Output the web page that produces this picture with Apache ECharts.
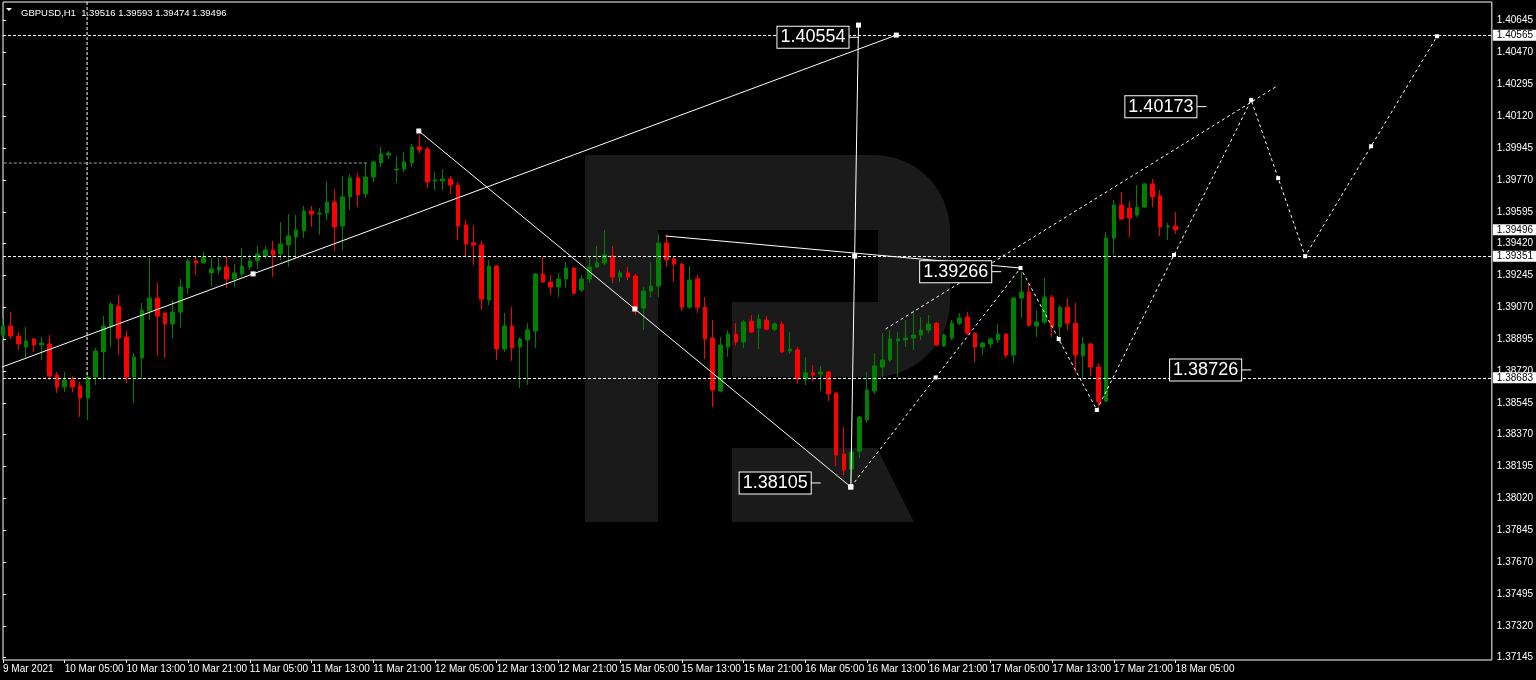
<!DOCTYPE html>
<html>
<head>
<meta charset="utf-8">
<title>GBPUSD,H1</title>
<script src="https://cdn.jsdelivr.net/npm/echarts@6/dist/echarts.min.js"></script>
<style>
  html, body { margin: 0; padding: 0; background: #000; }
  #main { width: 1536px; height: 680px; }
</style>
</head>
<body>
<div id="main"></div>
<script>
// GBPUSD H1 bars, 9 Mar 21:00 .. 18 Mar 05:00 (index 0..152)
var opens = [
  1.38918,1.38967,1.38912,1.38852,1.38896,1.38863,1.38869,1.38698,1.38632,1.38671,
  1.38638,1.38572,1.38687,1.38825,1.38962,1.39077,1.38907,1.38687,1.38792,1.39050,
  1.39121,1.39039,1.38978,1.39044,1.39176,1.39325,1.39314,1.39259,1.39275,1.39292,
  1.39226,1.39253,1.39292,1.39325,1.39352,1.39385,1.39363,1.39413,1.39457,1.39490,
  1.39599,1.39583,1.39588,1.39649,1.39517,1.39677,1.39781,1.39693,1.39786,1.39863,
  1.39907,1.39825,1.39830,1.39863,1.39951,1.39940,1.39764,1.39764,1.39775,1.39742,
  1.39522,1.39424,1.39413,1.39110,1.39297,1.38841,1.38967,1.38852,1.38891,1.38940,
  1.39253,1.39209,1.39182,1.39226,1.39286,1.39165,1.39226,1.39292,1.39314,1.39352,
  1.39237,1.39259,1.39242,1.39066,1.39159,1.39187,1.39424,1.39336,1.39308,1.39071,
  1.39226,1.39071,1.38901,1.38610,1.38852,1.38923,1.38880,1.38994,1.38956,1.39000,
  1.38950,1.38978,1.38830,1.38836,1.38676,1.38710,1.38704,1.38715,1.38599,1.38264,
  1.38181,1.38280,1.38451,1.38610,1.38742,1.38781,1.38885,1.38891,1.38901,1.38918,
  1.38945,1.38983,1.38858,1.38901,1.38983,1.39017,1.38928,1.38852,1.38869,1.38891,
  1.38923,1.38808,1.39121,1.39154,1.38967,1.38989,1.39126,1.38962,1.39071,1.38983,
  1.38803,1.38869,1.38742,1.38555,1.39451,1.39632,1.39616,1.39577,1.39621,1.39748,
  1.39682,1.39512,1.39516
];
var highs = [
  1.39011,1.39044,1.38934,1.38962,1.38901,1.38907,1.38918,1.38715,1.38715,1.38693,
  1.38660,1.38715,1.38847,1.39022,1.39099,1.39138,1.38940,1.38819,1.39094,1.39341,
  1.39204,1.39039,1.39110,1.39226,1.39336,1.39347,1.39374,1.39341,1.39341,1.39352,
  1.39308,1.39396,1.39358,1.39407,1.39407,1.39435,1.39539,1.39583,1.39578,1.39627,
  1.39627,1.39616,1.39764,1.39720,1.39792,1.39803,1.39809,1.39863,1.39874,1.39951,
  1.39929,1.39902,1.39924,1.39968,1.40017,1.39951,1.39814,1.39830,1.39792,1.39759,
  1.39550,1.39522,1.39435,1.39330,1.39300,1.39039,1.39071,1.38907,1.38983,1.39259,
  1.39347,1.39248,1.39259,1.39319,1.39292,1.39248,1.39347,1.39407,1.39495,1.39407,
  1.39275,1.39292,1.39253,1.39182,1.39319,1.39473,1.39468,1.39347,1.39314,1.39297,
  1.39248,1.39126,1.39000,1.38907,1.38945,1.38983,1.39000,1.39027,1.39033,1.39022,
  1.38989,1.38994,1.38934,1.38852,1.38797,1.38753,1.38748,1.38720,1.38605,1.38412,
  1.38286,1.38473,1.38715,1.38819,1.38928,1.38945,1.38934,1.39000,1.39055,1.39017,
  1.39027,1.38989,1.38928,1.39000,1.39039,1.39044,1.38934,1.38880,1.38907,1.38978,
  1.38928,1.39126,1.39266,1.39204,1.39055,1.39231,1.39138,1.39082,1.39121,1.39094,
  1.38907,1.38874,1.38764,1.39484,1.39660,1.39704,1.39654,1.39742,1.39753,1.39775,
  1.39715,1.39534,1.39593
];
var lows = [
  1.38891,1.38896,1.38836,1.38792,1.38825,1.38781,1.38671,1.38599,1.38605,1.38605,
  1.38467,1.38451,1.38643,1.38671,1.38852,1.38808,1.38654,1.38544,1.38676,1.39000,
  1.38803,1.38792,1.38901,1.38956,1.39143,1.39248,1.39314,1.39187,1.39248,1.39176,
  1.39182,1.39237,1.39275,1.39281,1.39336,1.39237,1.39330,1.39292,1.39341,1.39451,
  1.39512,1.39468,1.39550,1.39380,1.39385,1.39605,1.39621,1.39671,1.39759,1.39841,
  1.39885,1.39753,1.39814,1.39841,1.39918,1.39726,1.39715,1.39715,1.39693,1.39440,
  1.39347,1.39302,1.39055,1.39082,1.38781,1.38825,1.38775,1.38627,1.38643,1.38847,
  1.39205,1.39138,1.39126,1.39176,1.39138,1.39154,1.39204,1.39286,1.39302,1.39204,
  1.39209,1.39220,1.39027,1.38945,1.39126,1.39126,1.39292,1.39209,1.39050,1.39060,
  1.39039,1.38786,1.38522,1.38605,1.38797,1.38858,1.38847,1.38930,1.38841,1.38945,
  1.38940,1.38819,1.38814,1.38649,1.38643,1.38660,1.38610,1.38555,1.38198,1.38148,
  1.38105,1.38242,1.38434,1.38594,1.38687,1.38770,1.38687,1.38852,1.38836,1.38891,
  1.38928,1.38858,1.38852,1.38891,1.38972,1.38918,1.38770,1.38808,1.38847,1.38874,
  1.38792,1.38764,1.39011,1.38962,1.38907,1.38978,1.38907,1.38874,1.38945,1.38710,
  1.38676,1.38693,1.38522,1.38550,1.39358,1.39552,1.39457,1.39566,1.39616,1.39621,
  1.39462,1.39440,1.39474
];
var closes = [
  1.38967,1.38912,1.38869,1.38885,1.38863,1.38874,1.38693,1.38632,1.38671,1.38632,
  1.38572,1.38687,1.38830,1.38967,1.39088,1.38901,1.38687,1.38797,1.39055,1.39121,
  1.39022,1.38978,1.39044,1.39182,1.39325,1.39314,1.39347,1.39281,1.39292,1.39226,
  1.39259,1.39297,1.39325,1.39363,1.39385,1.39358,1.39418,1.39462,1.39495,1.39599,
  1.39583,1.39588,1.39649,1.39512,1.39677,1.39781,1.39687,1.39786,1.39869,1.39913,
  1.39918,1.39830,1.39869,1.39951,1.39935,1.39759,1.39770,1.39775,1.39742,1.39517,
  1.39418,1.39413,1.39115,1.39297,1.38841,1.38967,1.38847,1.38896,1.38945,1.39253,
  1.39209,1.39182,1.39226,1.39286,1.39148,1.39226,1.39292,1.39314,1.39358,1.39237,
  1.39259,1.39237,1.39060,1.39159,1.39187,1.39424,1.39330,1.39308,1.39071,1.39220,
  1.39071,1.38896,1.38616,1.38863,1.38923,1.38880,1.38989,1.38934,1.39005,1.38950,
  1.38978,1.38825,1.38841,1.38676,1.38710,1.38698,1.38715,1.38594,1.38258,1.38176,
  1.38275,1.38467,1.38616,1.38748,1.38781,1.38896,1.38896,1.38901,1.38918,1.38945,
  1.38978,1.38863,1.38918,1.38983,1.39011,1.38928,1.38852,1.38874,1.38896,1.38923,
  1.38808,1.39121,1.39154,1.38972,1.38989,1.39126,1.38962,1.39071,1.38983,1.38808,
  1.38869,1.38742,1.38550,1.39451,1.39632,1.39555,1.39561,1.39621,1.39748,1.39677,
  1.39512,1.39517,1.39496
];

// one label every 8 bars
var tickLabels = ['9 Mar 2021', '10 Mar 05:00', '10 Mar 13:00', '10 Mar 21:00', '11 Mar 05:00',
  '11 Mar 13:00', '11 Mar 21:00', '12 Mar 05:00', '12 Mar 13:00', '12 Mar 21:00',
  '15 Mar 05:00', '15 Mar 13:00', '15 Mar 21:00', '16 Mar 05:00', '16 Mar 13:00',
  '16 Mar 21:00', '17 Mar 05:00', '17 Mar 13:00', '17 Mar 21:00', '18 Mar 05:00'];
var yTicks = [1.37145, 1.37320, 1.37495, 1.37670, 1.37845, 1.38020, 1.38195, 1.38370,
  1.38545, 1.38720, 1.38895, 1.39070, 1.39245, 1.39420, 1.39595, 1.39770, 1.39945,
  1.40120, 1.40295, 1.40470, 1.40645];

var levels = [1.40565, 1.39351, 1.38683];   // dashed horizontal lines
var lastPrice = 1.39496;

// drawn objects, points are [bar index, price]
var trendUp = [[-50.96, 1.37942], [115.8, 1.40566]];
var trendDown = [[53.9, 1.40039], [109.9, 1.38083]];
var spike = [[109.9, 1.38083], [110.9, 1.40621]];
var flatTop = [[85.9, 1.39462], [131.9, 1.39286]];
var wave = [[109.9, 1.38083], [131.9, 1.39286], [141.8, 1.38506], [161.8, 1.40209],
  [168.8, 1.39351], [185.9, 1.40560]];
var channel = [[114.4, 1.38951], [165.0, 1.40282]];
var vMark = [[10.9, 1.40748], [10.9, 1.38683]];
var grayMark = [[0.1, 1.39863], [47.2, 1.39863]];
var priceTags = [[110.9, 1.40554], [106, 1.38105], [129.4, 1.39266], [156, 1.40173], [161.8, 1.38726]];

var nBars = 194;
var yMin = 1.37132, yMax = 1.40748;
var smallFont = "'Liberation Sans Narrow', 'Liberation Sans', sans-serif";

var categories = [];
for (var i = 0; i < nBars; i++) categories.push(String(i));

var candleData = opens.map(function (o, i) {
  return [o, closes[i], lows[i], highs[i]];
});

function withMids(pts) {
  var out = [pts[0]];
  for (var i = 1; i < pts.length; i++) {
    var a = pts[i - 1], b = pts[i];
    out.push([(a[0] + b[0]) / 2, (a[1] + b[1]) / 2]);
    out.push(b);
  }
  return out;
}

function objLine(pts, opts) {
  return {
    type: 'line',
    xAxisIndex: 1,
    yAxisIndex: 0,
    data: pts,
    symbol: opts.marks ? 'rect' : 'none',
    symbolSize: opts.size || 5,
    showSymbol: !!opts.marks,
    clip: true,
    silent: true,
    z: 4,
    lineStyle: { color: opts.color || '#ffffff', width: 1, type: opts.dash ? opts.dash : 'solid' },
    itemStyle: { color: '#ffffff' },
    emphasis: { disabled: true }
  };
}

function isTick(idx) {
  return idx % 8 === 0 && idx / 8 < tickLabels.length;
}

var last = opens.length - 1;
var header = 'GBPUSD,H1  ' + [opens[last], highs[last], lows[last], closes[last]]
  .map(function (v) { return v.toFixed(5); }).join(' ');

var myChart = echarts.init(document.getElementById('main'));

var option = {
  backgroundColor: '#000000',
  animation: false,
  title: {
    text: header,
    left: 16,
    top: 3,
    textStyle: { color: '#ffffff', fontSize: 9.5, fontWeight: 'normal', fontFamily: smallFont }
  },
  graphic: [
    // watermark logo
    { type: 'rect', z: 0, silent: true, shape: { x: 585, y: 155, width: 73, height: 367 }, style: { fill: '#1a1a1a' } },
    { type: 'rect', z: 0, silent: true, shape: { x: 658, y: 155, width: 292, height: 222, r: [0, 76, 76, 0] }, style: { fill: '#1a1a1a' } },
    { type: 'rect', z: 0, silent: true, shape: { x: 658, y: 230, width: 220, height: 72 }, style: { fill: '#000000' } },
    { type: 'rect', z: 0, silent: true, shape: { x: 658, y: 302, width: 74, height: 75 }, style: { fill: '#000000' } },
    { type: 'polygon', z: 0, silent: true, shape: { points: [[732, 448], [877, 448], [914, 522], [732, 522]] }, style: { fill: '#1a1a1a' } },
    // header arrow
    { type: 'polygon', z: 5, silent: true, shape: { points: [[6, 8], [12, 8], [9, 11]] }, style: { fill: '#ffffff' } }
  ],
  grid: {
    left: 3,
    top: 2,
    width: 1489,
    height: 658,
    show: true,
    borderColor: '#ffffff',
    borderWidth: 1,
    backgroundColor: 'transparent'
  },
  xAxis: [
    {
      type: 'category',
      data: categories,
      boundaryGap: false,
      axisLine: { show: false },
      splitLine: { show: false },
      axisTick: { show: true, length: 3, interval: isTick, lineStyle: { color: '#ffffff' } },
      axisLabel: {
        interval: isTick,
        formatter: function (v, idx) { return tickLabels[idx / 8]; },
        align: 'left',
        margin: 4,
        color: '#ffffff',
        fontSize: 10,
        fontFamily: smallFont
      }
    },
    {
      type: 'value',
      min: 0,
      max: nBars - 1,
      show: false
    }
  ],
  yAxis: {
    type: 'value',
    position: 'right',
    min: yMin,
    max: yMax,
    splitLine: { show: false },
    axisLine: { show: false },
    axisTick: { show: true, length: 3, customValues: yTicks, lineStyle: { color: '#ffffff' } },
    axisLabel: {
      customValues: yTicks,
      formatter: function (v) { return v.toFixed(5); },
      color: '#ffffff',
      fontSize: 10,
      margin: 5,
      fontFamily: smallFont
    }
  },
  series: [
    {
      type: 'candlestick',
      xAxisIndex: 0,
      yAxisIndex: 0,
      data: candleData,
      barWidth: 4,
      z: 3,
      silent: true,
      itemStyle: {
        color: '#008000',
        color0: '#ff0000',
        borderColor: '#008000',
        borderColor0: '#ff0000',
        borderWidth: 1
      },
      markLine: {
        silent: true,
        symbol: ['none', 'none'],
        precision: 5,
        lineStyle: { color: '#ffffff', width: 1, type: [3, 2] },
        label: {
          position: 'end',
          distance: 1,
          formatter: function (p) { return Number(p.value).toFixed(5); },
          color: '#000000',
          backgroundColor: '#ffffff',
          padding: [1, 4, 0, 4],
          fontSize: 10,
          fontFamily: smallFont
        },
        emphasis: { disabled: true },
        data: levels.map(function (v) { return { yAxis: v }; })
          .concat([{ yAxis: lastPrice, lineStyle: { color: 'rgba(0,0,0,0)' } }])
      }
    },
    objLine(grayMark, { dash: [3, 2], color: '#a0a0a0' }),
    objLine(vMark, { dash: [3, 2] }),
    objLine(withMids(trendUp), { marks: true }),
    objLine(withMids(trendDown), { marks: true }),
    objLine(withMids(spike), { marks: true }),
    objLine(flatTop, {}),
    objLine(channel, { dash: [3, 3] }),
    objLine(withMids(wave), { dash: [3, 3], marks: true, size: 4 }),
    {
      type: 'scatter',
      xAxisIndex: 1,
      yAxisIndex: 0,
      data: priceTags,
      symbol: 'rect',
      symbolSize: [10, 1],
      symbolOffset: [-5, 0],
      silent: true,
      z: 6,
      itemStyle: { color: '#ffffff', opacity: 1 },
      label: {
        show: true,
        position: 'left',
        distance: 0,
        formatter: function (p) { return p.value[1].toFixed(5); },
        color: '#ffffff',
        opacity: 1,
        backgroundColor: '#000000',
        borderColor: '#ffffff',
        borderWidth: 1,
        padding: [2, 3, 1, 3],
        fontSize: 18,
        fontFamily: "'Liberation Sans', Arial, sans-serif"
      },
      emphasis: { disabled: true }
    }
  ]
};

myChart.setOption(option);
</script>
</body>
</html>
